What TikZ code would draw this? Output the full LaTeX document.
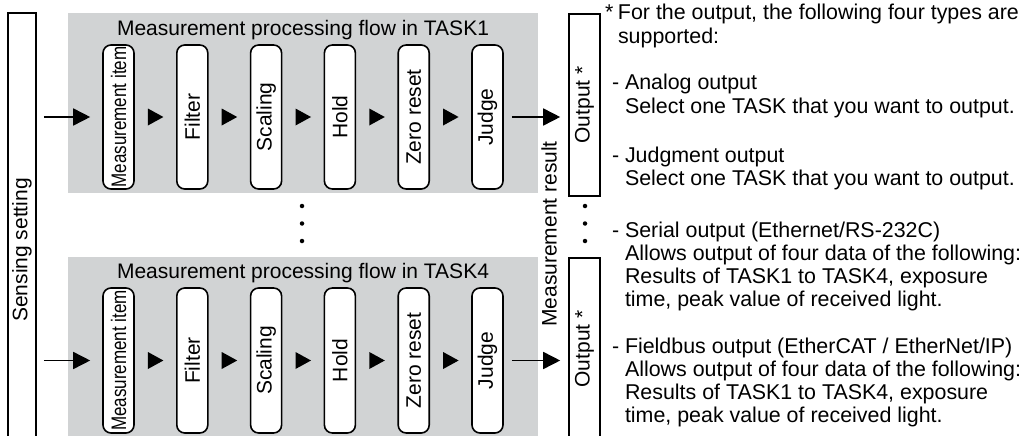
\documentclass[tikz,border=0pt]{standalone}
\usepackage{fontspec}
\setmainfont{Liberation Sans}
\usetikzlibrary{arrows.meta,calc}
\definecolor{panelgray}{RGB}{209,211,212}
\newcommand{\lead}[1]{\makebox[12.8pt][l]{#1}}
\begin{document}
\begin{tikzpicture}[x=1pt,y=-1pt,
  txt/.style={font=\fontsize{21}{23.3}\selectfont, inner sep=0pt},
  note/.style={font=\fontsize{21.4}{23.3}\selectfont, inner sep=0pt, anchor=base west},
  procbox/.style={draw, line width=1.6pt, fill=white, rounded corners=8pt, minimum width=31pt, minimum height=144pt, inner sep=0pt, font=\fontsize{21}{23.3}\selectfont},
  sqbox/.style={draw, line width=1.6pt, fill=white, minimum width=31pt, inner sep=0pt, font=\fontsize{21}{23.3}\selectfont},
  panel/.style={fill=panelgray, draw=none, minimum width=470pt, minimum height=180pt, inner sep=0pt},
  flow/.style={line width=1.6pt, -{Triangle[length=17pt,width=17pt]}},
  dot/.style={circle, fill=black, inner sep=0pt, minimum size=4.5pt},
]
\useasboundingbox (0,0) rectangle (1026,436);
\clip (0,0) rectangle (1026,436);

% panels
\node[panel] (p1) at (303,103) {};
\node[panel] (p4) at (303,347) {};
\node[txt, anchor=base] (t1) at (303,36) {Measurement processing flow in TASK1};
\node[txt, anchor=base] (t4) at (303,278) {Measurement processing flow in TASK4};

% sensing setting
\node[sqbox, minimum width=28pt, minimum height=474pt] (sens) at (22,250) {\rotatebox{90}{Sensing setting}};

% process boxes
\foreach \n/\lab [count=\i from 0] in {m/{\scalebox{0.81}[1]{Measurement item}}, f/Filter, s/Scaling, h/Hold, z/Zero reset, j/Judge}{
  \node[procbox] (\n1) at ({118.5+73.8*\i},117) {\rotatebox{90}{\lab}};
  \node[procbox, minimum height=145pt] (\n4) at ({118.5+73.8*\i},360.5) {\rotatebox{90}{\lab}};
}

% flow triangles between boxes
\foreach \a/\b in {m1/f1, f1/s1, s1/h1, h1/z1, z1/j1, m4/f4, f4/s4, s4/h4, h4/z4, z4/j4}{
  \fill ($(\a.east)!0.5!(\b.west)$) +(-7.5,-8.5) -- +(8,0) -- +(-7.5,8.5) -- cycle;
}

% output boxes
\node[sqbox, minimum height=182pt] (o1) at (584.5,105) {\rotatebox{90}{Output *}};
\node[sqbox, minimum height=182pt] (o4) at (584.5,349) {\rotatebox{90}{Output *}};

% measurement result
\node[txt, rotate=90] (mr) at (549,234) {Measurement result};

% arrows
\draw[flow, shorten <=7pt, shorten >=12pt] (sens.east |- m1.west) -- (m1.west);
\draw[flow, shorten <=7pt, shorten >=12pt] (sens.east |- m4.west) -- (m4.west);
\draw[flow, shorten <=8pt, shorten >=8pt] (j1.east) -- (o1.west |- j1.east);
\draw[flow, shorten <=8pt, shorten >=8pt] (j4.east) -- (o4.west |- j4.east);

% dots
\node[dot] (da1) at (302,206) {};
\node[dot] (da2) at (302,223.5) {};
\node[dot] (da3) at (302,241) {};
\node[dot] (db1) at (585,206) {};
\node[dot] (db2) at (585,223.5) {};
\node[dot] (db3) at (585,241) {};

% notes
\node[note] (n0) at (605,20) {\begin{tabular}[t]{@{}l@{}l@{}}\lead{*} & For the output, the following four types are\\ & supported:\end{tabular}};
\node[note] (n1) at (612,90) {\begin{tabular}[t]{@{}l@{}l@{}}\lead{-} & Analog output\\ & Select one TASK that you want to output.\end{tabular}};
\node[note] (n2) at (612,162) {\begin{tabular}[t]{@{}l@{}l@{}}\lead{-} & Judgment output\\ & Select one TASK that you want to output.\end{tabular}};
\node[note] (n3) at (612,237) {\begin{tabular}[t]{@{}l@{}l@{}}\lead{-} & Serial output (Ethernet/RS-232C)\\ & Allows output of four data of the following:\\ & Results of TASK1 to TASK4, exposure\\ & time, peak value of received light.\end{tabular}};
\node[note] (n4) at (612,353) {\begin{tabular}[t]{@{}l@{}l@{}}\lead{-} & Fieldbus output (EtherCAT / EtherNet/IP)\\ & Allows output of four data of the following:\\ & Results of TASK1 to TASK4, exposure\\ & time, peak value of received light.\end{tabular}};
\end{tikzpicture}
\end{document}
